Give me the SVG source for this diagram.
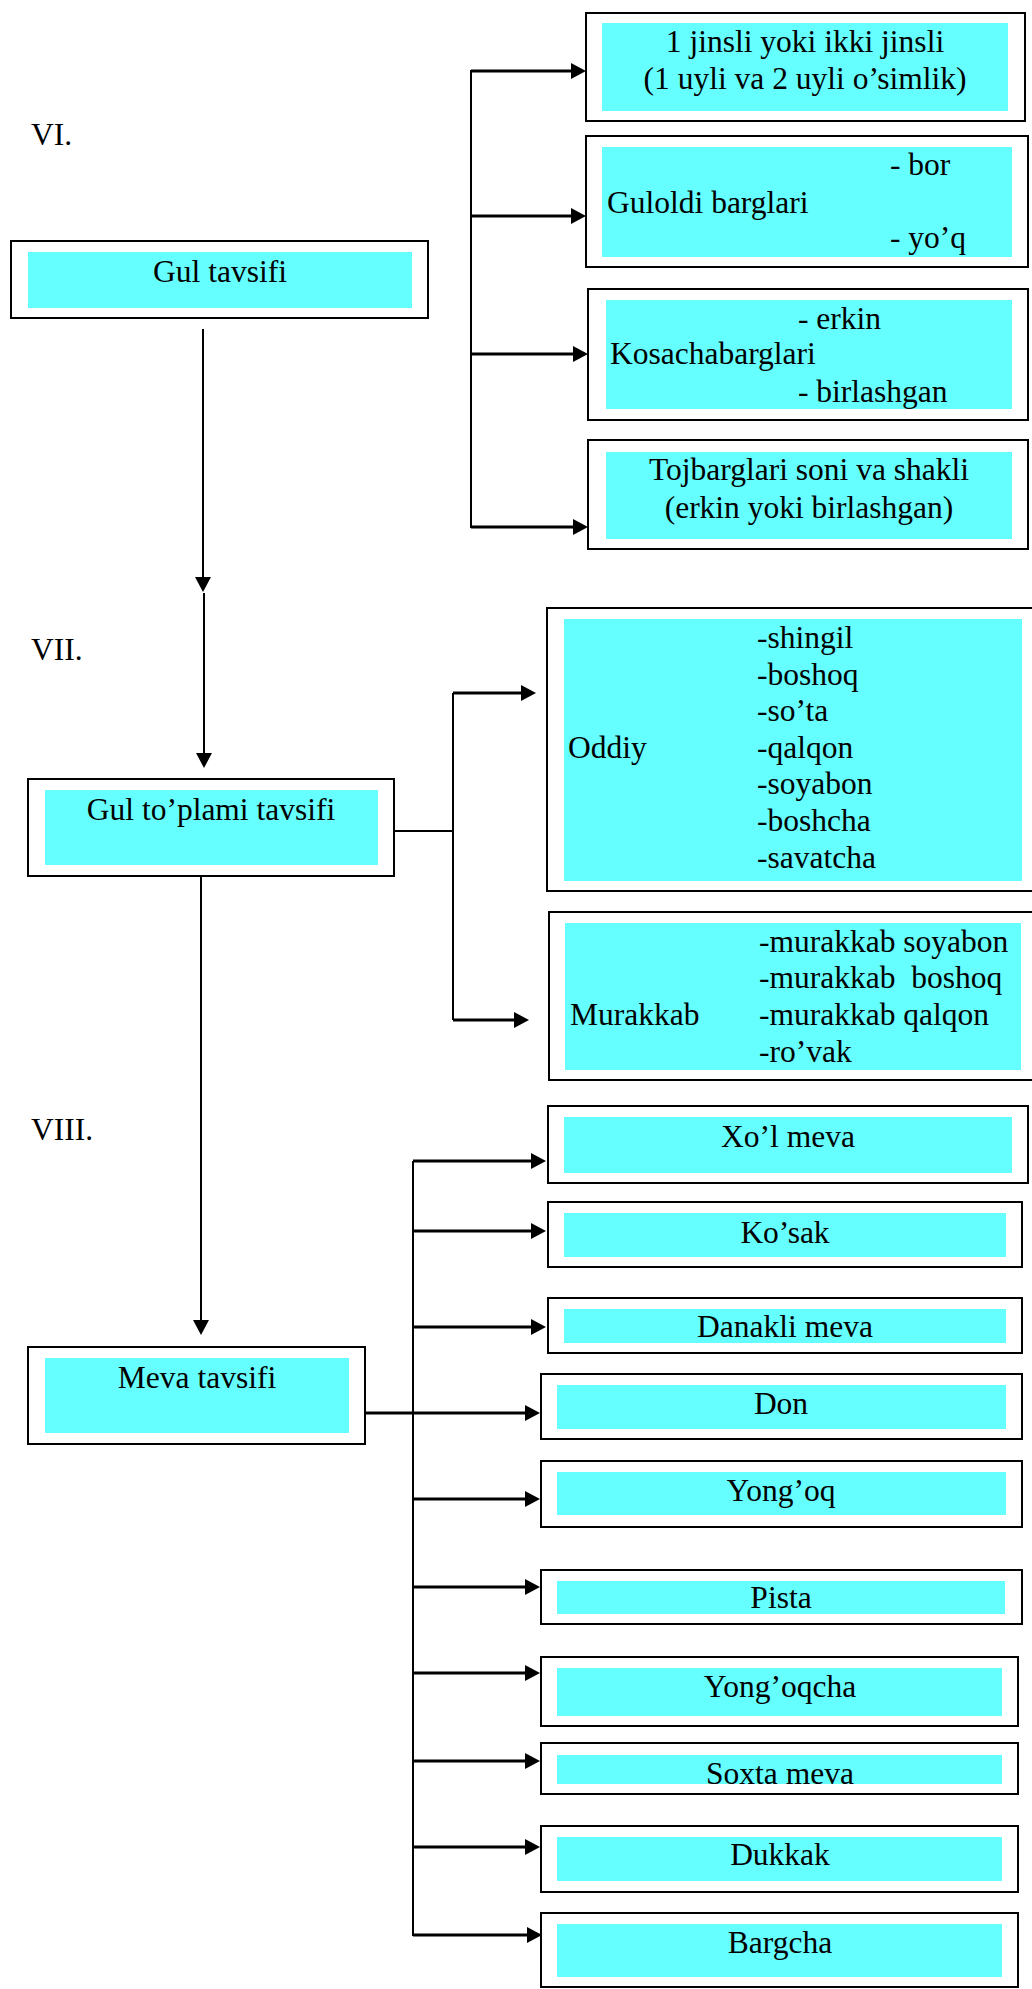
<svg xmlns="http://www.w3.org/2000/svg" width="1032" height="1989" viewBox="0 0 1032 1989">
<defs>
<style>
.o{fill:#fff;stroke:#000;stroke-width:2}
.i{fill:#66ffff;stroke:none}
text{font-family:"Liberation Serif","Times New Roman",serif;font-size:31.5px;fill:#000}
.c{text-anchor:middle}
.ln{fill:none;stroke:#000;stroke-width:2}
.ar{fill:none;stroke:#000;stroke-width:3;marker-end:url(#ah)}
.av{fill:none;stroke:#000;stroke-width:2;marker-end:url(#ah)}
</style>
<marker id="ah" viewBox="0 0 15 16" refX="0" refY="8" markerWidth="15" markerHeight="16" markerUnits="userSpaceOnUse" orient="auto">
<path d="M0,0 L15,8 L0,16 z" fill="#000"/>
</marker>
<clipPath id="clipSoxta"><rect x="557" y="1755" width="445" height="29"/></clipPath>
</defs>
<rect width="1032" height="1989" fill="#fff"/>

<text x="31" y="145">VI.</text>
<text x="31" y="660">VII.</text>
<text x="31" y="1140">VIII.</text>

<g id="connectors">
<path class="ln" d="M471,70 V528"/>
<path class="ar" d="M471,71 H571"/>
<path class="ar" d="M471,216 H571"/>
<path class="ar" d="M471,354 H573"/>
<path class="ar" d="M471,527 H573"/>
<path class="av" d="M203,329 V577"/>
<path class="av" d="M204,593 V753"/>
<path class="ln" d="M394,831 H453"/>
<path class="ln" d="M453,693 V1020"/>
<path class="ar" d="M453,693 H521"/>
<path class="ar" d="M453,1020 H514"/>
<path class="av" d="M201,876 V1320"/>
<path class="ar" d="M365,1413 H525"/>
<path class="ln" d="M413,1161 V1936"/>
<path class="ar" d="M413,1161 H531"/>
<path class="ar" d="M413,1231 H531"/>
<path class="ar" d="M413,1327 H531"/>
<path class="ar" d="M413,1499 H525"/>
<path class="ar" d="M413,1587 H525"/>
<path class="ar" d="M413,1673 H525"/>
<path class="ar" d="M413,1761 H525"/>
<path class="ar" d="M413,1847 H525"/>
<path class="ar" d="M413,1935 H527"/>
</g>

<g id="gul-tavsifi">
<rect class="o" x="11" y="241" width="417" height="77"/>
<rect class="i" x="28" y="252" width="384" height="56"/>
<text class="c" x="220" y="282">Gul tavsifi</text>
</g>

<g id="jinsli">
<rect class="o" x="586" y="13" width="439" height="108"/>
<rect class="i" x="602" y="23" width="406" height="88"/>
<text class="c" x="805" y="52">1 jinsli yoki ikki jinsli</text>
<text class="c" x="805" y="89">(1 uyli va 2 uyli o’simlik)</text>
</g>

<g id="guloldi">
<rect class="o" x="586" y="136" width="442" height="131"/>
<rect class="i" x="602" y="147" width="410" height="110"/>
<text x="890" y="175">- bor</text>
<text x="607" y="213">Guloldi barglari</text>
<text x="890" y="248">- yo’q</text>
</g>

<g id="kosacha">
<rect class="o" x="588" y="289" width="440" height="131"/>
<rect class="i" x="606" y="300" width="406" height="109"/>
<text x="798" y="329">- erkin</text>
<text x="610" y="364">Kosachabarglari</text>
<text x="798" y="402">- birlashgan</text>
</g>

<g id="tojbarg">
<rect class="o" x="588" y="440" width="440" height="109"/>
<rect class="i" x="606" y="452" width="406" height="87"/>
<text class="c" x="809" y="480">Tojbarglari soni va shakli</text>
<text class="c" x="809" y="518">(erkin yoki birlashgan)</text>
</g>

<g id="gul-toplami">
<rect class="o" x="28" y="779" width="366" height="97"/>
<rect class="i" x="45" y="790" width="333" height="75"/>
<text class="c" x="211" y="820">Gul to’plami tavsifi</text>
</g>

<g id="oddiy">
<rect class="o" x="547" y="608" width="500" height="283"/>
<rect class="i" x="564" y="619" width="458" height="262"/>
<text x="568" y="758">Oddiy</text>
<text x="757" y="648">-shingil</text>
<text x="757" y="685">-boshoq</text>
<text x="757" y="721">-so’ta</text>
<text x="757" y="758">-qalqon</text>
<text x="757" y="794">-soyabon</text>
<text x="757" y="831">-boshcha</text>
<text x="757" y="868">-savatcha</text>
</g>

<g id="murakkab">
<rect class="o" x="549" y="912" width="500" height="168"/>
<rect class="i" x="565" y="923" width="456" height="147"/>
<text x="570" y="1025">Murakkab</text>
<text x="759" y="952">-murakkab soyabon</text>
<text x="759" y="988" xml:space="preserve">-murakkab  boshoq</text>
<text x="759" y="1025">-murakkab qalqon</text>
<text x="759" y="1062">-ro’vak</text>
</g>

<g id="meva-tavsifi">
<rect class="o" x="28" y="1347" width="337" height="97"/>
<rect class="i" x="45" y="1358" width="304" height="75"/>
<text class="c" x="197" y="1388">Meva tavsifi</text>
</g>

<g id="xol-meva">
<rect class="o" x="548" y="1106" width="480" height="77"/>
<rect class="i" x="564" y="1117" width="448" height="56"/>
<text class="c" x="788" y="1147">Xo’l meva</text>
</g>

<g id="kosak">
<rect class="o" x="548" y="1202" width="474" height="65"/>
<rect class="i" x="564" y="1213" width="442" height="44"/>
<text class="c" x="785" y="1243">Ko’sak</text>
</g>

<g id="danakli">
<rect class="o" x="548" y="1298" width="474" height="55"/>
<rect class="i" x="564" y="1309" width="442" height="34"/>
<text class="c" x="785" y="1337">Danakli meva</text>
</g>

<g id="don">
<rect class="o" x="541" y="1374" width="481" height="65"/>
<rect class="i" x="557" y="1385" width="449" height="44"/>
<text class="c" x="781" y="1414">Don</text>
</g>

<g id="yongoq">
<rect class="o" x="541" y="1461" width="481" height="66"/>
<rect class="i" x="557" y="1472" width="449" height="43"/>
<text class="c" x="781" y="1501">Yong’oq</text>
</g>

<g id="pista">
<rect class="o" x="541" y="1570" width="481" height="54"/>
<rect class="i" x="557" y="1581" width="448" height="33"/>
<text class="c" x="781" y="1608">Pista</text>
</g>

<g id="yongoqcha">
<rect class="o" x="541" y="1657" width="477" height="69"/>
<rect class="i" x="557" y="1668" width="445" height="48"/>
<text class="c" x="780" y="1697">Yong’oqcha</text>
</g>

<g id="soxta-meva">
<rect class="o" x="541" y="1743" width="477" height="51"/>
<rect class="i" x="557" y="1755" width="445" height="29"/>
<text class="c" x="780" y="1784" clip-path="url(#clipSoxta)">Soxta meva</text>
</g>

<g id="dukkak">
<rect class="o" x="541" y="1826" width="477" height="66"/>
<rect class="i" x="557" y="1837" width="445" height="44"/>
<text class="c" x="780" y="1865">Dukkak</text>
</g>

<g id="bargcha">
<rect class="o" x="541" y="1913" width="477" height="74"/>
<rect class="i" x="557" y="1924" width="445" height="53"/>
<text class="c" x="780" y="1953">Bargcha</text>
</g>
</svg>
